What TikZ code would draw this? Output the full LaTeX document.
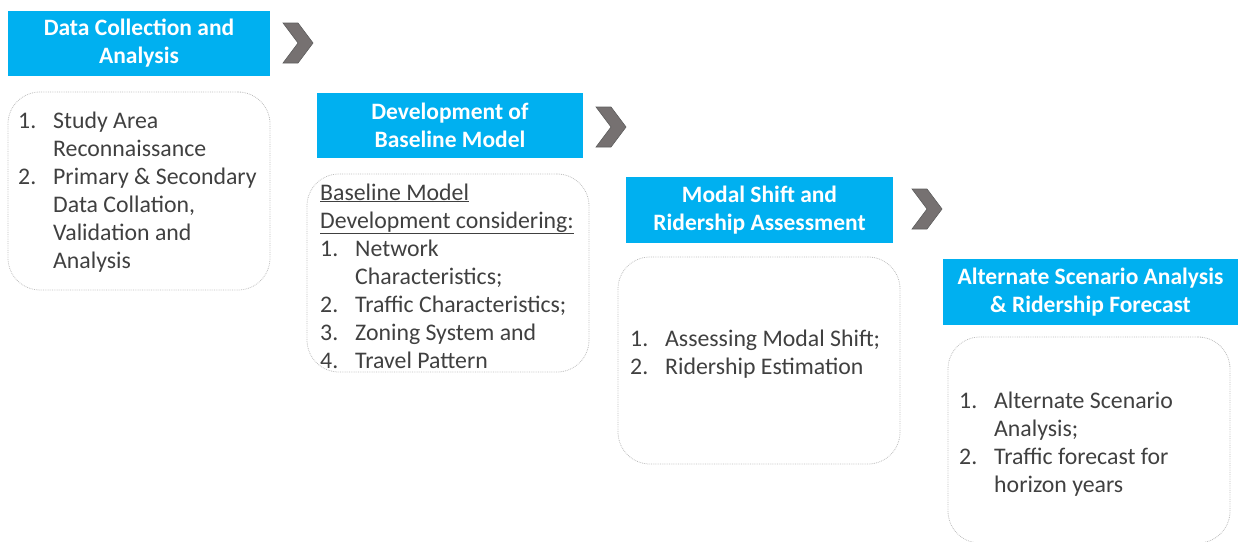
\documentclass[tikz,border=0pt]{standalone}
\usepackage{fontspec}
\setmainfont{Carlito}
\definecolor{headcyan}{HTML}{00B0F0}
\definecolor{bodytext}{HTML}{404040}
\definecolor{chevfill}{HTML}{767171}
\definecolor{chevline}{HTML}{5E5E5E}
\definecolor{boxline}{HTML}{BDBDBD}
\tikzset{
  header/.style={fill=headcyan, text=white, align=center, inner sep=0pt,
    font=\bfseries\fontsize{23.5}{28}\selectfont},
  bodybox/.style={draw=boxline, densely dotted, line width=0.8pt, rounded corners=32pt},
  bodytxt/.style={text=bodytext, inner sep=0pt, anchor=base west,
    font=\fontsize{23.8}{28}\selectfont},
}
\newcommand{\steplist}[1]{\begin{tabular}[t]{@{}p{35pt}@{}l@{}}#1\end{tabular}}
\begin{document}
\begin{tikzpicture}[x=1pt,y=-1pt]
    \useasboundingbox (0,0) rectangle (1238,541);
    % headers
    \node[header, minimum width=262pt, minimum height=65pt] (h1) at (139,43.5) {Data Collection and\\Analysis};
    \node[header, minimum width=266pt, minimum height=65pt] (h2) at (450,125.5) {Development of\\Baseline Model};
    \node[header, minimum width=267pt, minimum height=66pt] (h3) at (759.5,210) {Modal Shift and\\Ridership Assessment};
    \node[header, minimum width=295pt, minimum height=66pt] (h4) at (1090.5,292) {Alternate Scenario Analysis\\\& Ridership Forecast};
    % chevrons
    \foreach \x/\y in {283/23, 596/107, 912/189}
    {
        \draw[fill=chevfill, draw=chevline, line width=0.6pt] (\x,\y) -- ++(15,0) -- ++(15,20) -- ++(-15,20) -- ++(-15,0) -- ++(15,-20) -- cycle;
    }
    % body boxes
    \node[bodybox, minimum width=262pt, minimum height=198pt] (b1) at (139,191) {};
    \node[bodybox, minimum width=282pt, minimum height=198pt] (b2) at (448,273) {};
    \node[bodybox, minimum width=282pt, minimum height=207pt] (b3) at (759,360.5) {};
    \node[bodybox, minimum width=282pt, minimum height=206pt] (b4) at (1089,440) {};
    % body texts
    \node[bodytxt] (t1) at (18,128) {\steplist{1. & Study Area\\ & Reconnaissance\\ 2. & Primary \& Secondary\\ & Data Collation,\\ & Validation and\\ & Analysis}};
    \node[bodytxt] (t2) at (320,200) {\begin{tabular}[t]{@{}l@{}}\underline{Baseline Model}\\ \underline{Development considering:}\end{tabular}};
    \node[bodytxt] (t2b) at (320,256) {\steplist{1. & Network\\ & Characteristics;\\ 2. & Traffic Characteristics;\\ 3. & Zoning System and\\ 4. & Travel Pattern}};
    \node[bodytxt] (t3) at (630,346) {\steplist{1. & Assessing Modal Shift;\\ 2. & Ridership Estimation}};
    \node[bodytxt] (t4) at (959,408) {\steplist{1. & Alternate Scenario\\ & Analysis;\\ 2. & Traffic forecast for\\ & horizon years}};
\end{tikzpicture}
\end{document}
